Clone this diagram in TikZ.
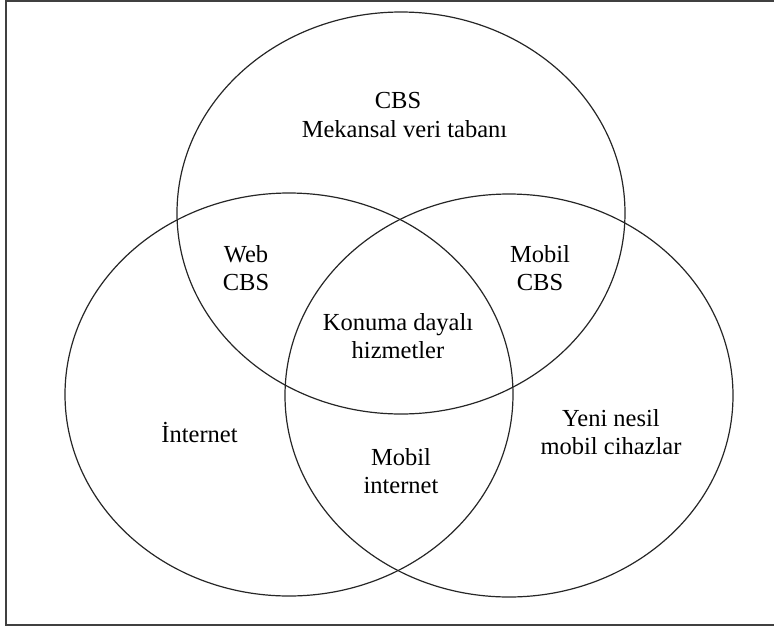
\documentclass[tikz,border=0pt]{standalone}
\usepackage{fontspec}
\setmainfont{Liberation Serif}
\tikzset{
  venn/.style={draw=black!85, line width=1.2pt},
  lbl/.style={font=\fontsize{24.5}{28}\selectfont, align=center, inner sep=0pt, text=black},
  frame/.style={draw=black!75, line width=1.6pt}
}
\begin{document}
\begin{tikzpicture}[x=1pt,y=-1pt]
\useasboundingbox (0,0) rectangle (774,630);
\coordinate (fa) at (6,1);
\coordinate (fb) at (780,1);
\coordinate (fc) at (6,625);
\coordinate (fd) at (780,625);
\draw[frame] (fb) -- (fa) -- (fc) -- (fd);
\draw[venn] (401,213) ellipse [x radius=224, y radius=201];
\draw[venn] (289,394.5) ellipse [x radius=224, y radius=201.5];
\draw[venn] (509,395.5) ellipse [x radius=224, y radius=201.5];
\node[lbl] (cbs) at (398,101) {CBS};
\node[lbl] (mek) at (404.5,129) {Mekansal veri tabanı};
\node[lbl] (web) at (246,268) {Web\\CBS};
\node[lbl] (mcbs) at (540,268) {Mobil\\CBS};
\node[lbl] (kon) at (398,336) {Konuma dayalı\\hizmetler};
\node[lbl] (int) at (199.5,433) {İnternet};
\node[lbl] (mint) at (401,471.5) {Mobil\\internet};
\node[lbl] (yeni) at (611,432.5) {Yeni nesil\\mobil cihazlar};
\end{tikzpicture}
\end{document}
